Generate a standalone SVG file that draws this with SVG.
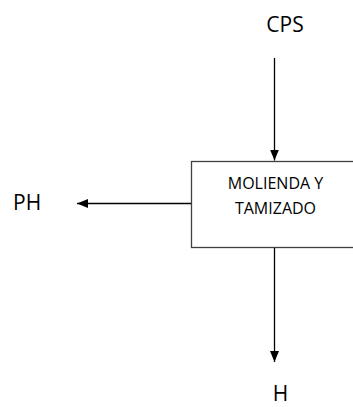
<svg xmlns="http://www.w3.org/2000/svg" width="353" height="407" viewBox="0 0 353 407">
  <style>
    .label { font-family: "Open Sans", "Liberation Sans", sans-serif; font-size: 21px; fill: #000; }
    .box-text { font-family: "Open Sans", "Liberation Sans", sans-serif; font-size: 16px; fill: #000; text-anchor: middle; }
    .box { fill: #fff; stroke: #404040; stroke-width: 1.3; }
    .flow { stroke: #000; stroke-width: 1.3; fill: none; marker-end: url(#arrow); }
  </style>
  <defs>
    <marker id="arrow" viewBox="0 0 11 9" refX="11" refY="4.5" markerWidth="11" markerHeight="9" markerUnits="userSpaceOnUse" orient="auto">
      <path d="M0,0 L11,4.5 L0,9 Z" fill="#000"/>
    </marker>
  </defs>

  <!-- process block (runs off the right edge) -->
  <g id="molienda">
    <rect class="box" x="191.5" y="161.5" width="200" height="86"/>
    <text class="box-text" x="275.5" y="189">MOLIENDA Y</text>
    <text class="box-text" x="275.5" y="213.5">TAMIZADO</text>
  </g>

  <!-- stream labels -->
  <g id="cps">
    <text class="label" x="285" y="32" text-anchor="middle">CPS</text>
  </g>
  <g id="ph">
    <text class="label" x="13" y="210">PH</text>
  </g>
  <g id="h">
    <text class="label" x="280.5" y="401" text-anchor="middle">H</text>
  </g>

  <!-- flows -->
  <g id="connectors">
    <line class="flow" x1="274.5" y1="58" x2="274.5" y2="160.5"/>
    <line class="flow" x1="191" y1="203.5" x2="77" y2="203.5"/>
    <line class="flow" x1="274.5" y1="248" x2="274.5" y2="362"/>
  </g>
</svg>
